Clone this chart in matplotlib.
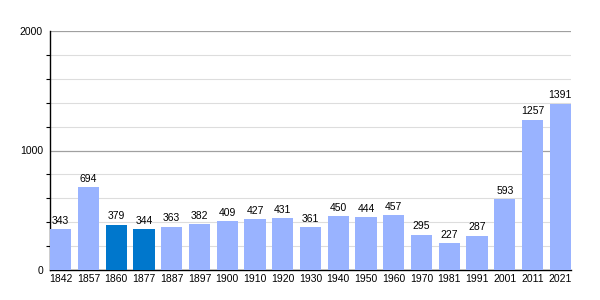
import numpy as np
import matplotlib
matplotlib.use('Agg')
import matplotlib.pyplot as plt
from matplotlib.ticker import MultipleLocator

plt.rcParams['font.family'] = ['Liberation Sans', 'DejaVu Sans']

# Einwohnerzahlen
jahre = ['1842', '1857', '1860', '1877', '1887', '1897', '1900', '1910', '1920', '1930',
         '1940', '1950', '1960', '1970', '1981', '1991', '2001', '2011', '2021']
einwohner = [343, 694, 379, 344, 363, 382, 409, 427, 431, 361,
             450, 444, 457, 295, 227, 287, 593, 1257, 1391]
hervorgehoben = ['1860', '1877']

hell = '#99b3ff'
dunkel = '#0077cc'

fig = plt.figure(figsize=(6, 3), dpi=100)
ax = fig.add_axes([50/600, 30/300, 521/600, 239/300])

x = np.arange(len(jahre))
farben = [dunkel if j in hervorgehoben else hell for j in jahre]
breite = 0.77
ax.bar(x, einwohner, width=breite, color=farben, zorder=3)

for xi, wert in zip(x, einwohner):
    ax.text(xi, wert + 28, str(wert), ha='center', va='bottom', fontsize=7.5, zorder=4)

ax.set_xlim(-breite/2, len(jahre) - 1 + breite/2)
ax.set_ylim(0, 2000)
ax.set_xticks(x)
ax.set_xticklabels(jahre, fontsize=7.5)
ax.yaxis.set_major_locator(MultipleLocator(1000))
ax.yaxis.set_minor_locator(MultipleLocator(200))
ax.tick_params(axis='y', which='major', length=0, labelsize=7.5, pad=5)
ax.tick_params(axis='y', which='minor', length=3, width=0.8)
ax.tick_params(axis='x', length=0, pad=3)

ax.grid(axis='y', which='major', color='#a0a0a0', linewidth=0.9, zorder=0)
ax.grid(axis='y', which='minor', color='#dddddd', linewidth=0.8, zorder=0)

for s in ['top', 'right']:
    ax.spines[s].set_visible(False)
ax.spines['left'].set_linewidth(1.0)
ax.spines['bottom'].set_linewidth(1.0)

fig.savefig('out.png', dpi=100)
